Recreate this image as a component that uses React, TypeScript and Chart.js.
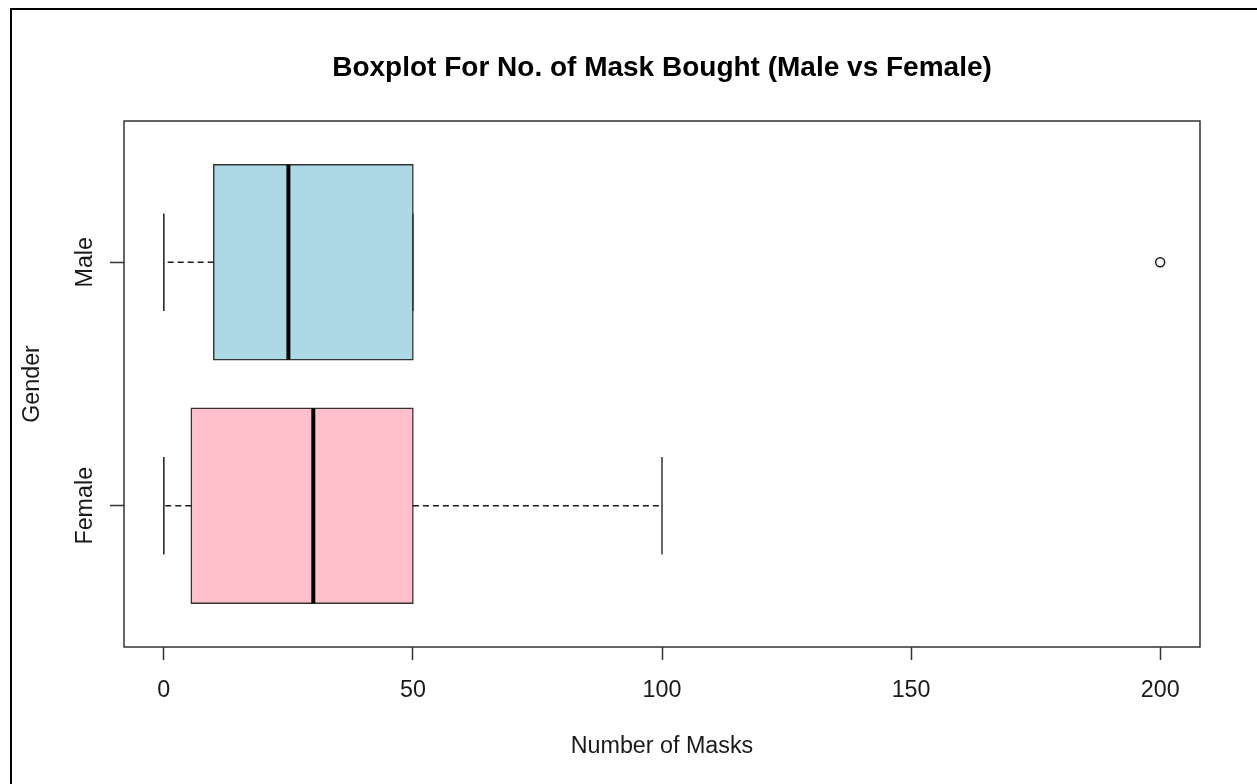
import React, { useEffect, useRef } from 'react';
import { Chart, registerables } from 'chart.js';

Chart.register(...registerables);

// Five-number summaries per group (y position = index + 1)
const GROUPS = ['Female', 'Male'];
const BOX_COLORS = ['#FFC0CB', '#ADD8E6'];
const WHISKER_LOW = [0, 0];
const Q1 = [5.5, 10];
const MEDIAN = [30, 25];
const Q3 = [50, 50];
const WHISKER_HIGH = [100, 50];
const OUTLIERS: number[][] = [[], [200]];
const X_TICKS = [0, 50, 100, 150, 200];

const TITLE = 'Boxplot For No. of Mask Bought (Male vs Female)';
const X_LABEL = 'Number of Masks';
const Y_LABEL = 'Gender';

const W = 1257;
const H = 784;
const FONT = "'Liberation Sans', Arial, sans-serif";
const INK = '#1a1a1a';
const LINE = '#333333';
const BOX_HALF = 0.4; // half box thickness in group units
const STAPLE_HALF = 0.2; // half whisker-cap length in group units
const DASH = [6, 4];
const BOX_BORDER = 1.5;

// Axis limits padded by 4% of the data range on each side
const allValues = [...WHISKER_LOW, ...WHISKER_HIGH, ...OUTLIERS.flat()];
const X_LO = Math.min(...allValues);
const X_HI = Math.max(...allValues);
const X_PAD = (X_HI - X_LO) * 0.04;
const Y_PAD = GROUPS.length * 0.04;

const segment = (x1: number, y1: number, x2: number, y2: number, extra: any = {}) => ({
  type: 'scatter',
  showLine: true,
  data: [
    { x: x1, y: y1 },
    { x: x2, y: y2 },
  ],
  pointRadius: 0,
  pointHoverRadius: 0,
  borderColor: INK,
  borderWidth: 1.5,
  ...extra,
});

const plotFrame = {
  id: 'plotFrame',
  afterDatasetsDraw(chart: any) {
    const { ctx, chartArea: a } = chart;
    ctx.save();
    ctx.strokeStyle = LINE;
    ctx.lineWidth = 1.5;
    ctx.strokeRect(a.left, a.top, a.right - a.left, a.bottom - a.top);
    ctx.restore();
  },
};

function buildDatasets() {
  const ds: any[] = [];
  GROUPS.forEach((_, i) => {
    const pos = i + 1;
    ds.push(segment(MEDIAN[i], pos - BOX_HALF, MEDIAN[i], pos + BOX_HALF, { borderColor: '#000', borderWidth: 4, order: 0 }));
    ds.push(segment(Q1[i], pos, WHISKER_LOW[i], pos, { borderDash: DASH, order: 1 }));
    ds.push(segment(Q3[i], pos, WHISKER_HIGH[i], pos, { borderDash: DASH, order: 1 }));
    ds.push(segment(WHISKER_LOW[i], pos - STAPLE_HALF, WHISKER_LOW[i], pos + STAPLE_HALF, { order: 1 }));
    ds.push(segment(WHISKER_HIGH[i], pos - STAPLE_HALF, WHISKER_HIGH[i], pos + STAPLE_HALF, { borderColor: LINE, order: 1 }));
  });
  ds.push({
    type: 'bar',
    indexAxis: 'y',
    data: GROUPS.map((_, i) => ({ x: [Q1[i], Q3[i]], y: i + 1 })),
    backgroundColor: BOX_COLORS,
    borderColor: LINE,
    borderWidth: BOX_BORDER,
    inflateAmount: BOX_BORDER / 2,
    borderSkipped: false,
    categoryPercentage: BOX_HALF * 2,
    barPercentage: 1,
    order: 2,
  });
  ds.push({
    type: 'scatter',
    data: OUTLIERS.flatMap((vals, i) => vals.map((v) => ({ x: v, y: i + 1 }))),
    pointStyle: 'circle',
    pointRadius: 4.5,
    pointHoverRadius: 4.5,
    pointBackgroundColor: 'rgba(255,255,255,0)',
    pointBorderColor: INK,
    pointBorderWidth: 1.5,
    order: 0,
  });
  return ds;
}

export default function App() {
  const ref = useRef<HTMLCanvasElement>(null);

  useEffect(() => {
    const tickFont = { family: FONT, size: 23.3 };
    const chart = new Chart(ref.current as HTMLCanvasElement, {
      type: 'scatter',
      data: { datasets: buildDatasets() } as any,
      plugins: [plotFrame],
      options: {
        responsive: false,
        animation: false,
        devicePixelRatio: 1,
        events: [],
        layout: { padding: { left: 0, right: 57, top: 0, bottom: 0 } },
        plugins: {
          legend: { display: false },
          tooltip: { enabled: false },
          title: {
            display: true,
            text: TITLE,
            fullSize: false,
            color: '#000',
            font: { family: FONT, size: 28, weight: 'bold' },
            padding: { top: 51, bottom: 36.4 },
          },
        },
        scales: {
          x: {
            type: 'linear',
            position: 'bottom',
            min: X_LO - X_PAD,
            max: X_HI + X_PAD,
            offset: false,
            afterBuildTicks: (scale: any) => {
              scale.ticks = X_TICKS.map((value) => ({ value }));
            },
            afterFit: (scale: any) => {
              scale.height = 137;
            },
            ticks: {
              color: INK,
              font: tickFont,
              padding: 16.7,
              maxRotation: 0,
              autoSkip: false,
              callback: (v: any) => String(v),
            },
            grid: {
              display: true,
              offset: false,
              drawOnChartArea: false,
              drawTicks: true,
              tickLength: 13,
              tickColor: LINE,
              tickWidth: 1.5,
            },
            border: { display: false },
            title: {
              display: true,
              text: X_LABEL,
              color: INK,
              font: tickFont,
              padding: { top: 0, bottom: 23.2 },
            },
          },
          y: {
            type: 'linear',
            position: 'left',
            min: 1 - 0.5 - Y_PAD,
            max: GROUPS.length + 0.5 + Y_PAD,
            offset: false,
            afterBuildTicks: (scale: any) => {
              scale.ticks = GROUPS.map((_, i) => ({ value: i + 1 }));
            },
            afterFit: (scale: any) => {
              scale.width = 124;
            },
            ticks: {
              color: INK,
              font: tickFont,
              minRotation: 90,
              maxRotation: 90,
              crossAlign: 'center',
              padding: -14.4,
              autoSkip: false,
              callback: (v: any) => GROUPS[Math.round(v) - 1] ?? '',
            },
            grid: {
              display: true,
              offset: false,
              drawOnChartArea: false,
              drawTicks: true,
              tickLength: 14,
              tickColor: LINE,
              tickWidth: 1.5,
            },
            border: { display: false },
            title: {
              display: true,
              text: Y_LABEL,
              color: INK,
              font: tickFont,
              padding: { top: 18.2, bottom: 0 },
            },
          },
        },
      } as any,
    });
    return () => chart.destroy();
  }, []);

  return (
    <div
      style={{
        position: 'absolute',
        left: 0,
        top: 0,
        width: W,
        height: H,
        overflow: 'hidden',
        background: '#fff',
      }}
    >
      <div
        style={{
          position: 'absolute',
          left: 10,
          top: 8,
          width: W,
          height: H,
          borderLeft: '2px solid #000',
          borderTop: '2px solid #000',
        }}
      />
      <canvas
        ref={ref}
        width={W}
        height={H}
        style={{ position: 'absolute', left: 0, top: 0, width: W, height: H }}
      />
    </div>
  );
}
